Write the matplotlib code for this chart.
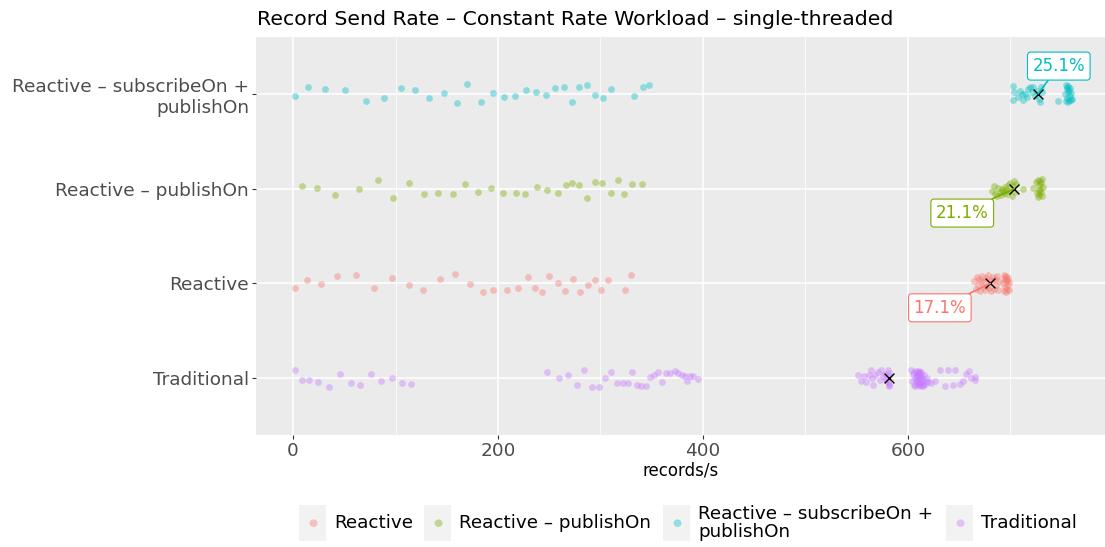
import matplotlib
matplotlib.use("Agg")
import matplotlib.pyplot as plt
from matplotlib.patches import Rectangle
from matplotlib.ticker import MultipleLocator

# ---------------- data ----------------
categories = ["Traditional", "Reactive", "Reactive – publishOn", "Reactive – subscribeOn +\npublishOn"]
legend_order = ["Reactive", "Reactive – publishOn", "Reactive – subscribeOn +\npublishOn", "Traditional"]
colors = {"Reactive": "#F8766D", "Reactive – publishOn": "#7CAE00",
          "Reactive – subscribeOn +\npublishOn": "#00BFC4", "Traditional": "#C77CFF"}

# Traditional
trad_x = [2.3, 8.8, 15.9, 24.7, 34.8, 46.2, 56.9, 65.7, 76.1, 85.5, 96.3, 106.3, 115.4,
          247.5, 259.5, 268.3, 277.1, 283.9, 291.4, 298.8, 304.7, 310.5, 315.8, 321.6, 326.8, 331, 335.6,
          339.8, 344.4, 348.3, 352.5, 356.4, 359.7, 363.6, 368.1, 372.7, 375.9, 379.5, 382.1, 384.1, 387.3,
          390.5, 394.8,
          551.2, 554.5, 557.1, 559.3, 561.7, 563.6, 564.9, 565.9, 568.1, 570.7, 572.4, 574, 575.6, 577.3,
          578.9, 580.5, 581.2, 581.5, 581.8, 579.8, 581.0, 581.4,
          603, 604, 605, 606, 606, 607, 607, 608, 608, 609, 609, 610, 610, 611, 611, 612, 612, 613, 614,
          615, 616, 617, 618, 619, 620,
          609, 610, 611, 612, 613, 614, 610, 612, 614, 611, 613, 615,
          622, 626.7, 630.9, 635.8, 639, 643.9, 646.2, 650.4, 653.7, 656.9, 659.2, 661.8, 665, 665]
trad_jit = [0.088, -0.018, -0.021, -0.039, -0.091, 0.042, -0.053, -0.070, 0.046, -0.035, 0.004, -0.056, -0.067,
            0.060, 0.004, 0.028, -0.070, 0.091, -0.091, -0.091, 0.0, 0.067, -0.053, -0.049, -0.046, 0.067, -0.074,
            -0.088, -0.081, 0.007, 0.028, 0.067, -0.042, 0.049, 0.056, 0.077, 0.053, 0.032, 0.018, -0.028, 0.018,
            0.025, -0.004,
            0.028, -0.035, 0.018, -0.042, 0.035, 0.084, 0.0, -0.077, 0.028, 0.070, -0.018, 0.088, 0.018, 0.042,
            -0.007, 0.088, 0.053, -0.053, -0.088, -0.028, 0.02, -0.07,
            0.085, -0.03, 0.04, -0.07, 0.06, 0.0, -0.085, 0.075, -0.02, 0.03, -0.06, 0.05, -0.04, 0.08, -0.075,
            0.01, -0.05, 0.06, -0.02, -0.08, 0.03, -0.06, -0.03, 0.0, -0.045,
            0.02, -0.01, -0.03, 0.04, -0.06, 0.0, 0.07, -0.08, -0.04, 0.05, 0.02, -0.07,
            -0.053, -0.035, 0.088, -0.088, 0.088, -0.070, 0.088, -0.063, -0.035, 0.042, 0.077, 0.0, 0.007, -0.021]

# Reactive
rea_x = [2.3, 14, 27.3, 43.2, 61.5, 79.3, 96.6, 113.2, 126.5, 143.1, 158.3, 172.9, 185, 195.4, 208.5,
         219.8, 229.3, 235.8, 242.9, 250, 258.5, 265.1, 272.9, 280.3, 287.8, 294.6, 300.5, 307.3, 323.9, 330.1,
         664, 666, 667, 668, 669, 670, 671, 672, 673, 674, 675, 676, 677, 678, 679, 680, 681, 682, 683, 684,
         685, 686, 687, 688, 689,
         693, 694, 694, 695, 695, 695, 696, 696, 696, 697, 697, 698, 698, 699, 699]
rea_jit = [-0.053, 0.032, -0.007, 0.077, 0.084, -0.046, 0.053, -0.018, -0.070, 0.049, 0.102, -0.007, -0.088,
           -0.074, -0.074, -0.049, 0.070, -0.053, -0.088, 0.074, 0.004, -0.081, 0.046, -0.091, -0.014, 0.035,
           -0.074, 0.035, -0.070, 0.091,
           0.02, -0.06, 0.07, -0.02, 0.05, -0.08, 0.03, 0.08, -0.04, 0.01, -0.07, 0.06, -0.03, 0.09, -0.05,
           0.04, -0.08, 0.02, 0.07, -0.06, 0.05, -0.02, 0.08, -0.07, 0.03,
           0.0, 0.09, -0.08, 0.05, -0.04, 0.07, -0.09, 0.02, 0.08, -0.06, 0.04, -0.02, 0.06, -0.07, 0.01]

# Reactive – publishOn
pub_x = [8.5, 23.7, 41, 64.4, 83.2, 97.6, 113.5, 127.8, 141.8, 155.8, 168.1, 180.2, 192.9, 205.2, 217.3,
         226.6, 237.8, 248.1, 258.2, 266.3, 272.2, 279, 286.8, 294.6, 301.8, 310.2, 316.8, 323.2, 330.7, 340.2,
         682, 684, 685, 687, 688, 690, 691, 692, 693, 694, 695, 696, 697, 698, 699, 700, 701, 702, 703, 704,
         705, 712,
         722, 725, 726, 727, 727, 728, 728, 728, 729, 729, 730, 730, 731, 731, 732]
pub_jit = [0.032, 0.004, -0.067, -0.007, 0.091, -0.098, 0.060, -0.053, -0.046, -0.056, 0.046, -0.032, 0.007,
           -0.046, -0.049, -0.053, 0.021, -0.014, -0.046, 0.035, 0.056, 0.039, -0.095, 0.074, 0.060, -0.046,
           0.095, -0.056, 0.046, 0.049,
           -0.02, 0.03, -0.06, -0.08, 0.01, -0.04, -0.07, 0.0, -0.03, -0.05, 0.02, -0.01, -0.06, 0.04, -0.02,
           0.06, -0.08, 0.03, 0.08, -0.04, 0.05, 0.0,
           0.01, 0.07, -0.05, 0.09, -0.09, 0.04, -0.02, -0.07, 0.08, 0.0, 0.06, -0.04, 0.1, -0.08, 0.02]

# Reactive – subscribeOn + publishOn
sub_x = [2, 15, 31, 51, 71, 89, 105, 119, 133, 147, 160, 170, 183, 195, 206, 217, 227, 237, 247, 256, 264,
         272, 279, 287, 295, 302, 310, 333, 341, 347,
         702.8, 703.4, 702.8, 707.6, 709.3, 712.5, 714.1, 717.4, 719, 720.6, 722.3, 723.9, 725.5, 728.1, 728.8,
         729.4, 730.4, 710.9, 715.8, 746.7,
         753, 754, 754, 755, 755, 755, 756, 756, 756, 757, 757, 758, 758, 759, 759, 760]
sub_jit = [-0.021, 0.070, 0.046, 0.039, -0.077, -0.046, 0.060, 0.042, -0.042, 0.011, -0.095, 0.102, -0.081,
           0.014, -0.028, -0.021, 0.039, 0.021, -0.011, 0.060, 0.074, -0.088, 0.070, 0.098, -0.007, -0.046,
           0.053, -0.018, 0.074, 0.095,
           0.088, 0.018, -0.063, -0.035, 0.035, -0.063, 0.0, 0.053, 0.077, 0.018, 0.07, -0.018, 0.035, -0.053,
           -0.088, 0.07, 0.018, 0.0, -0.035, -0.077,
           0.0, 0.09, -0.08, 0.05, -0.04, 0.07, -0.09, 0.02, 0.08, -0.06, 0.04, -0.02, 0.06, -0.07, 0.01, -0.05]

series = {
    "Traditional": (trad_x, trad_jit),
    "Reactive": (rea_x, rea_jit),
    "Reactive – publishOn": (pub_x, pub_jit),
    "Reactive – subscribeOn +\npublishOn": (sub_x, sub_jit),
}
# steady-state means (the X markers)
means = {"Traditional": 581.0, "Reactive": 680.4, "Reactive – publishOn": 703.6,
         "Reactive – subscribeOn +\npublishOn": 726.8}

# ---------------- figure ----------------
W, H = 1105, 547
fig = plt.figure(figsize=(W / 100, H / 100), dpi=100)
ax = fig.add_axes([256 / W, 1 - 435 / H, (1105 - 256) / W, (435 - 37) / H])
ax.set_facecolor("#EBEBEB")
for s in ax.spines.values():
    s.set_visible(False)

ax.set_xlim(-36.1, 792.2)
ax.set_ylim(0.4, 4.6)
ax.xaxis.set_major_locator(MultipleLocator(200))
ax.xaxis.set_minor_locator(MultipleLocator(100))
ax.set_yticks(range(1, len(categories) + 1))
ax.set_yticklabels(categories)
ax.grid(which="major", color="white", lw=1.1)
ax.grid(which="minor", axis="x", color="white", lw=0.55)
ax.set_axisbelow(True)
ax.tick_params(axis="both", which="major", length=3, color="#333333", labelcolor="#4D4D4D",
               labelsize=13.3, pad=2)
ax.tick_params(axis="both", which="minor", length=0)
ax.set_xlabel("records/s", fontsize=12, color="black", labelpad=1)

for i, cat in enumerate(categories):
    xs, js = series[cat]
    ys = [i + 1 + j for j in js]
    ax.scatter(xs, ys, s=24, color=colors[cat], alpha=0.4, linewidths=0, zorder=2)

base = means["Traditional"]
label_offsets = {"Reactive": (-36.4, -17.6), "Reactive – publishOn": (-37.4, -17.6),
                 "Reactive – subscribeOn +\npublishOn": (15, 20)}
for i, cat in enumerate(categories):
    ax.scatter([means[cat]], [i + 1], marker="x", s=50, color="black", linewidths=1.0, zorder=4)
    if cat in label_offsets:
        pct = (means[cat] / base - 1) * 100
        ax.annotate(f"{pct:.1f}%", xy=(means[cat], i + 1), xytext=label_offsets[cat],
                    textcoords="offset points", ha="center", va="center", fontsize=12,
                    color=colors[cat], zorder=5,
                    bbox=dict(boxstyle="round,pad=0.3,rounding_size=0.2", fc="white", ec=colors[cat], lw=0.8),
                    arrowprops=dict(arrowstyle="-", color=colors[cat], lw=1.2, shrinkA=0, shrinkB=0))

fig.text(257 / W, 1 - 25 / H, "Record Send Rate – Constant Rate Workload – single-threaded",
         fontsize=14.7, color="black", ha="left", va="baseline")

# legend (bottom, ggplot style)
key_x = [299, 424, 663, 946]
for cat, kx in zip(legend_order, key_x):
    fig.patches.append(Rectangle((kx / W, 1 - 541 / H), 27 / W, 36 / H, transform=fig.transFigure,
                                 fc="#F2F2F2", ec="none"))
    fig.text((kx + 13.5) / W, 1 - 523 / H, "●", fontsize=7.5, color=colors[cat], alpha=0.4,
             ha="center", va="center")
    fig.text((kx + 35) / W, 1 - 523 / H, cat, fontsize=13.2, color="black", ha="left", va="center",
             linespacing=0.95)

fig.savefig("out.png", dpi=100)
